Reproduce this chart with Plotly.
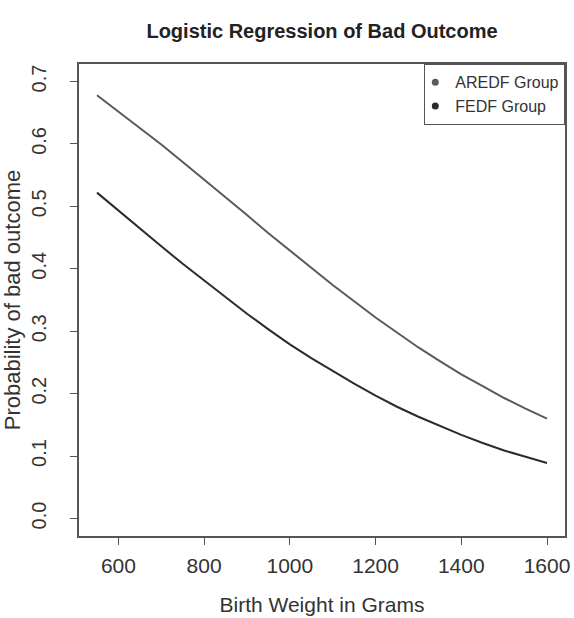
import plotly.graph_objects as go

# Birth weight grid (grams)
birth_weight = [550, 600, 650, 700, 750, 800, 850, 900, 950, 1000, 1050,
                1100, 1150, 1200, 1250, 1300, 1350, 1400, 1450, 1500, 1550, 1600]

# Probability of bad outcome
aredf_prob = [0.678, 0.652, 0.626, 0.599, 0.571, 0.543, 0.514, 0.486, 0.457, 0.429, 0.401,
              0.374, 0.348, 0.322, 0.298, 0.274, 0.252, 0.231, 0.212, 0.193, 0.176, 0.160]
fedf_prob = [0.522, 0.493, 0.465, 0.436, 0.408, 0.381, 0.354, 0.328, 0.303, 0.279, 0.257,
             0.236, 0.216, 0.197, 0.179, 0.163, 0.148, 0.134, 0.121, 0.109, 0.099, 0.089]

series_names = ["AREDF Group", "FEDF Group"]
series_colors = ["#5a5a5a", "#2b2b2b"]

x_ticks = [600, 800, 1000, 1200, 1400, 1600]
y_ticks = [0.0, 0.1, 0.2, 0.3, 0.4, 0.5, 0.6, 0.7]
y_tick_labels = ["0.0", "0.1", "0.2", "0.3", "0.4", "0.5", "0.6", "0.7"]

font_family = "Liberation Sans, Arial, Helvetica, sans-serif"

fig = go.Figure()
for name, ys, col in zip(series_names, [aredf_prob, fedf_prob], series_colors):
    fig.add_trace(go.Scatter(x=birth_weight, y=ys, mode="lines",
                             line=dict(color=col, width=2), showlegend=False,
                             hoverinfo="x+y", name=name))
# legend entries (dot symbols as in the original)
for name, col in zip(series_names, series_colors):
    fig.add_trace(go.Scatter(x=[None], y=[None], mode="markers",
                             marker=dict(color=col, size=7), name=name))

axis_common = dict(showline=True, linecolor="#555555", linewidth=1.5, mirror=True,
                   ticks="outside", ticklen=7, tickwidth=1.3, tickcolor="#555555",
                   showgrid=False, zeroline=False, automargin=False)

fig.update_layout(
    width=574, height=618,
    margin=dict(l=79, r=9, t=64, b=82),
    paper_bgcolor="white", plot_bgcolor="white",
    title=dict(text="<b>Logistic Regression of Bad Outcome</b>", x=0.561, xanchor="center",
               y=1 - 31 / 618, yanchor="middle",
               font=dict(size=20, color="#222222", family=font_family)),
    xaxis=dict(range=[508, 1642], tickvals=x_ticks,
               tickfont=dict(size=21, color="#333333", family=font_family),
               ticklabelstandoff=3,
               title=dict(text="Birth Weight in Grams", standoff=21,
                          font=dict(size=21, color="#333333", family=font_family)),
               **axis_common),
    yaxis=dict(range=[-0.028, 0.728], tickvals=y_ticks, ticktext=y_tick_labels,
               tickangle=-90, ticklabelstandoff=16,
               tickfont=dict(size=20, color="#333333", family=font_family),
               title=dict(text="Probability of bad outcome", standoff=9,
                          font=dict(size=22, color="#333333", family=font_family)),
               **axis_common),
    legend=dict(x=1, xanchor="right", y=1, yanchor="top",
                bordercolor="#555555", borderwidth=1.3, bgcolor="white",
                font=dict(size=16, color="#333333", family=font_family),
                itemwidth=30, tracegroupgap=0, indentation=-10),
)

fig.write_html("out.html", config={"displayModeBar": False},
               post_script="document.body.style.margin='0';")
